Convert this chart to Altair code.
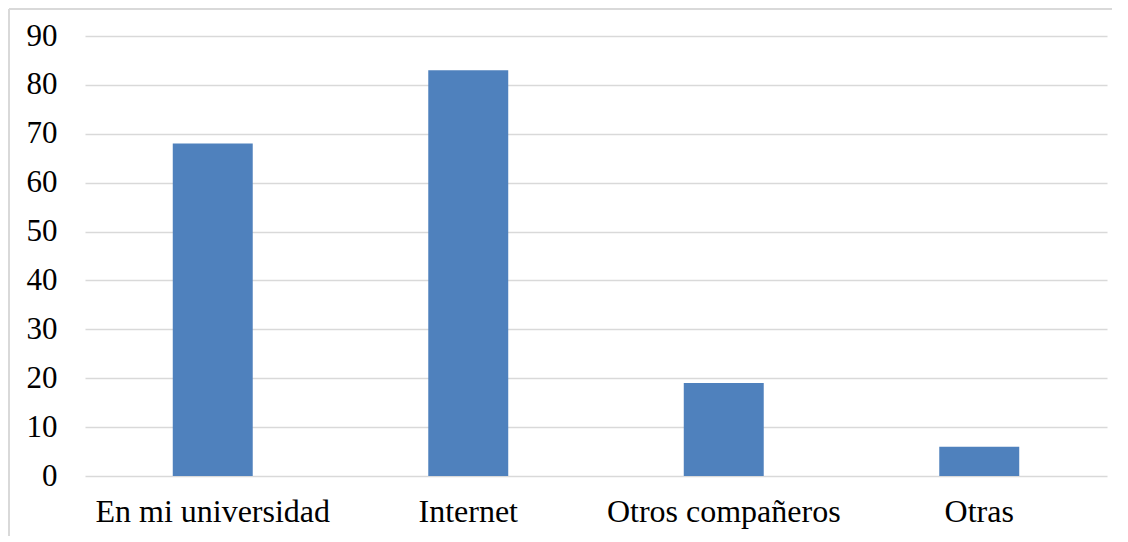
import altair as alt
import pandas as pd

categories = ["En mi universidad", "Internet", "Otros compañeros", "Otras"]
values = [68, 83, 19, 6]

df = pd.DataFrame({"cat": categories, "val": values})

FONT = "Times New Roman, Liberation Serif, Times, serif"

bars = alt.Chart(df).mark_bar(color="#4f81bd").encode(
    x=alt.X("cat:N", sort=categories,
            scale=alt.Scale(paddingInner=0.687, paddingOuter=0.3435),
            axis=alt.Axis(title=None, labelAngle=0, ticks=False, domain=False,
                          labelFont=FONT, labelFontSize=32,
                          labelColor="#000000", labelPadding=20, labelLimit=0)),
    y=alt.Y("val:Q", scale=alt.Scale(domain=[0, 90]),
            axis=alt.Axis(title=None, values=list(range(0, 91, 10)), ticks=False,
                          domain=False, gridColor="#d9d9d9", gridWidth=1.5,
                          labelFont=FONT, labelFontSize=31,
                          labelColor="#000000", labelPadding=28)),
)

frame_style = dict(color="#d9d9d9", strokeWidth=2)
top = alt.Chart(df).mark_rule(**frame_style).encode(
    x=alt.value(-76), x2=alt.value(1034), y=alt.value(-27))
left = alt.Chart(df).mark_rule(**frame_style).encode(
    x=alt.value(-76), y=alt.value(-27), y2=alt.value(600))
right = alt.Chart(df).mark_rule(**frame_style).encode(
    x=alt.value(1034), y=alt.value(-27), y2=alt.value(600))

chart = alt.layer(top, left, right, bars).properties(
    width=1022, height=440,
    autosize=alt.AutoSizeParams(type="none"),
    padding={"left": 77, "top": 28, "right": 5, "bottom": 60},
).configure_view(stroke=None)

chart.save("out.html", embed_options={"renderer": "svg", "actions": False})
